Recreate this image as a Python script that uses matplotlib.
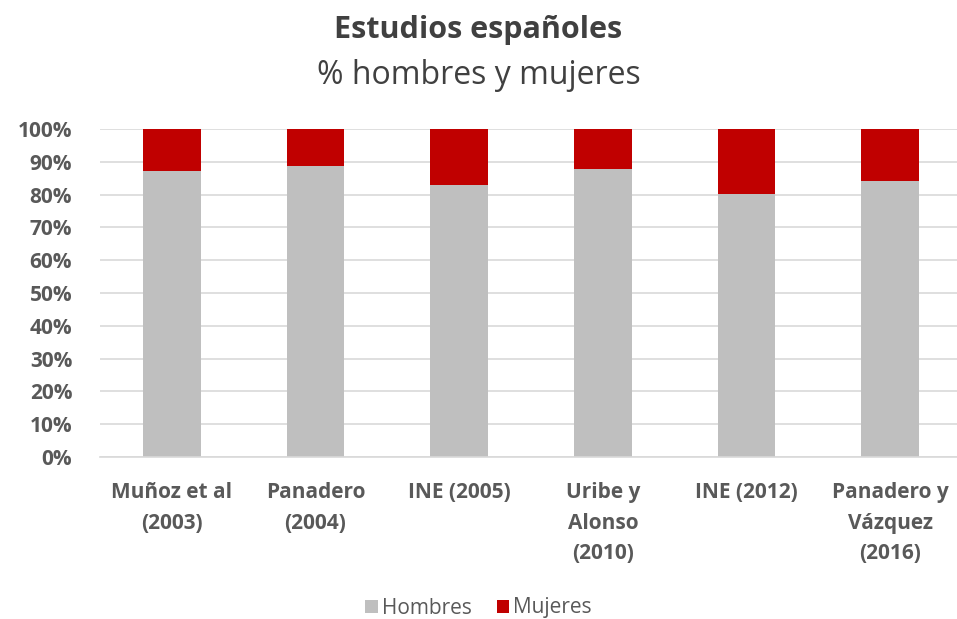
import matplotlib.pyplot as plt
from matplotlib.ticker import PercentFormatter, MultipleLocator

plt.rcParams['font.family'] = ['Open Sans', 'DejaVu Sans']

Estudios = ['Muñoz et al\n(2003)', 'Panadero\n(2004)', 'INE (2005)',
            'Uribe y\nAlonso\n(2010)', 'INE (2012)', 'Panadero y\nVázquez\n(2016)']
Hombres = [87.1, 88.6, 82.9, 87.7, 80.2, 84.1]
Mujeres = [100 - h for h in Hombres]

gris = '#BFBFBF'
rojo = '#C00000'
texto = '#595959'
titulo = '#404040'

fig = plt.figure(figsize=(9.57, 6.19), dpi=100)
ax = fig.add_axes([100 / 957, 162 / 619, 862 / 957, 328 / 619])

x = range(len(Estudios))
ax.bar(x, Hombres, width=0.4, color=gris, label='Hombres', zorder=3)
ax.bar(x, Mujeres, width=0.4, bottom=Hombres, color=rojo, label='Mujeres', zorder=3)

ax.set_xlim(-0.5, len(Estudios) - 0.5)
ax.set_ylim(0, 100)
ax.yaxis.set_major_locator(MultipleLocator(10))
ax.yaxis.set_major_formatter(PercentFormatter(decimals=0))
ax.grid(axis='y', color='#D9D9D9', linewidth=1.2, zorder=0)
ax.set_xticks(list(x))
ax.set_xticklabels(Estudios, fontsize=15, fontweight='bold', color=texto,
                   linespacing=1.6)
for lab in ax.get_yticklabels():
    lab.set_fontsize(15)
    lab.set_fontweight('bold')
    lab.set_color(texto)
ax.tick_params(length=0)
ax.tick_params(axis='x', pad=18)
ax.tick_params(axis='y', pad=20)
for s in ['top', 'right', 'left']:
    ax.spines[s].set_visible(False)
ax.spines['bottom'].set_color('#D9D9D9')
ax.spines['bottom'].set_linewidth(1.2)
ax.spines['bottom'].set_zorder(4)

fig.text(0.5, 1 - 30 / 619, 'Estudios españoles', ha='center', va='center',
         fontsize=22, fontweight='bold', color=titulo)
fig.text(0.5, 1 - 75 / 619, '% hombres y mujeres', ha='center', va='center',
         fontsize=23, color=titulo)

fig.legend(loc='center', bbox_to_anchor=(0.5, 1 - 608 / 619), ncol=2, frameon=False,
           fontsize=15, labelcolor=texto, handlelength=0.6, handleheight=0.6,
           handletextpad=0.2, columnspacing=1.2)

fig.savefig('out.png', dpi=100)
